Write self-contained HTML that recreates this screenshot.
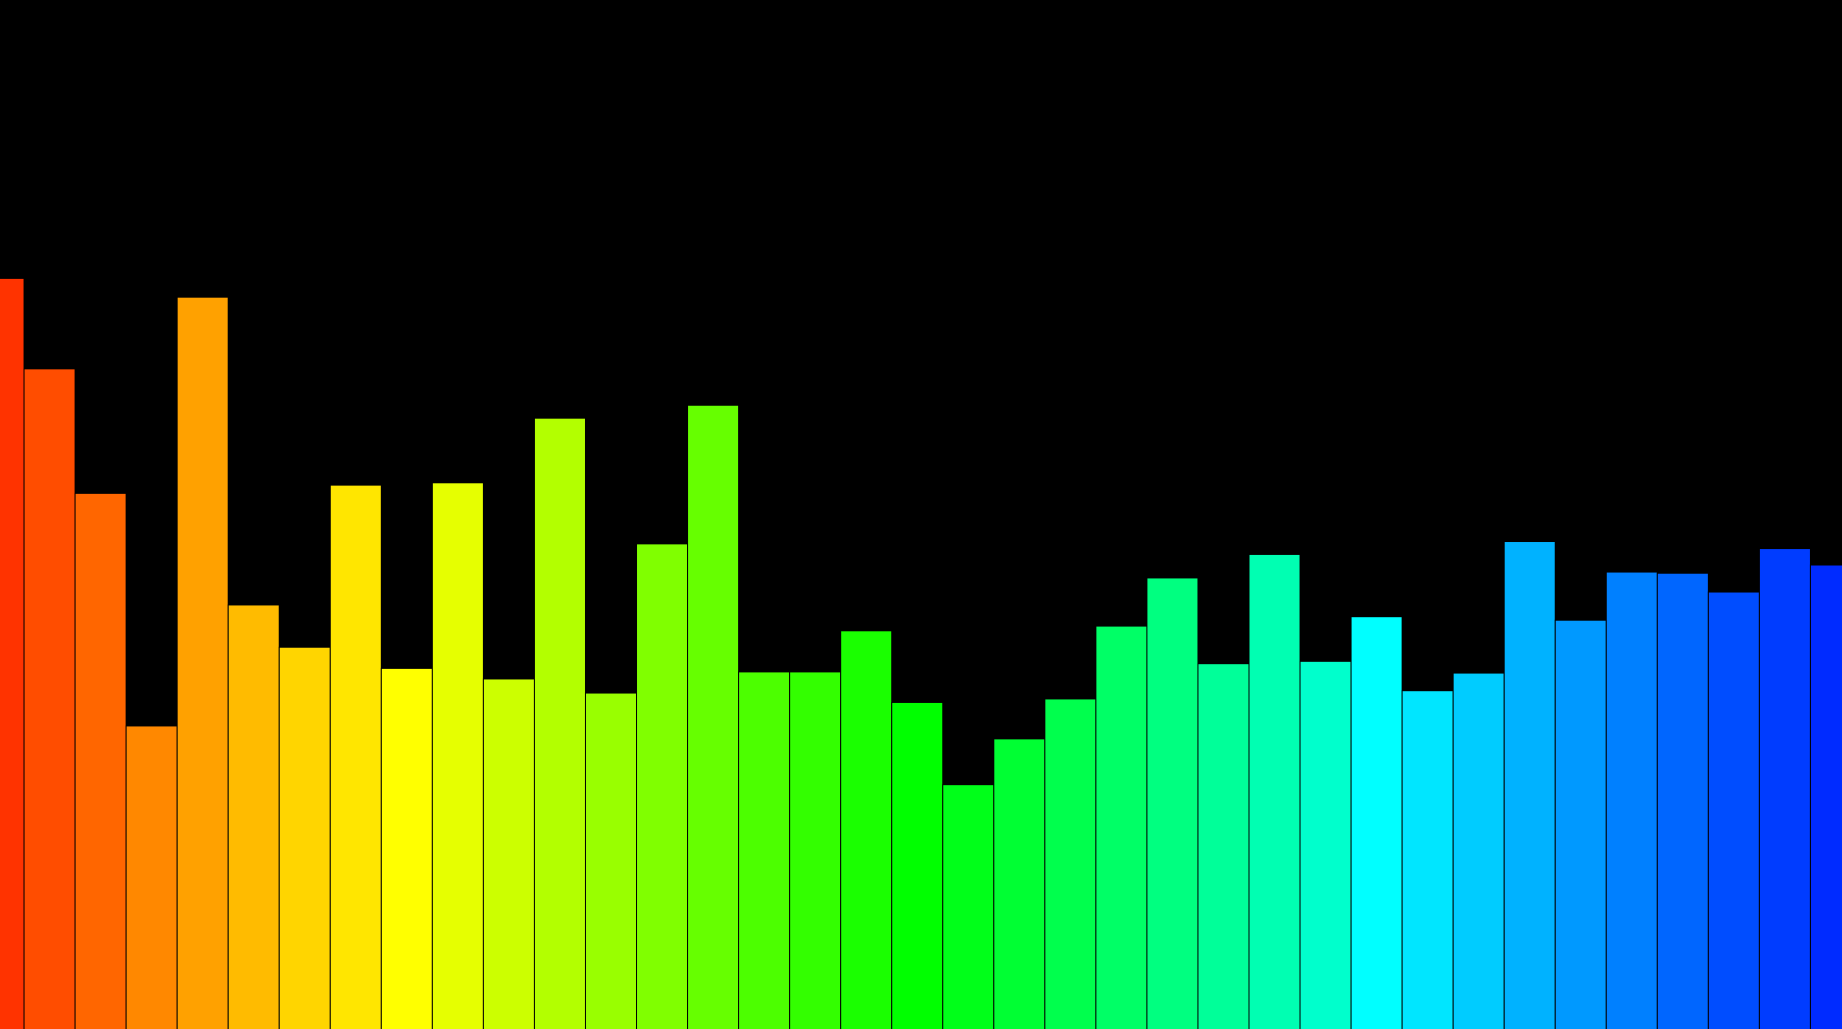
<!DOCTYPE html>
<html>
<head>
<meta charset="utf-8">
<style>
  html, body { margin: 0; padding: 0; background: #000; }
  svg { display: block; }
</style>
</head>
<body>
<svg id="chart" width="1842" height="1029" viewBox="0 0 1842 1029" xmlns="http://www.w3.org/2000/svg">
  <rect x="0" y="0" width="1842" height="1029" fill="#000"/>
  <g id="bars"></g>
</svg>
<script>
const categories = Array.from({length: 37}, (_, i) => 'bar-' + (i + 1));
const values = [639, 562, 456, 258, 623, 361, 325, 463, 307, 465, 298, 520, 286, 413, 531, 304, 304, 339, 278, 208, 247, 281, 343, 384, 311, 404, 313, 351, 288, 303, 415, 348, 389, 388, 372, 409, 395];
const hues = [12, 18, 24, 32, 38, 44, 50, 54, 60, 66, 72, 78, 84, 90, 96, 102, 108, 114, 120, 126, 132, 138, 144, 150, 156, 162, 168, 180, 186, 192, 198, 204, 210, 216, 222, 226, 230];

const W = 1842, H = 1029;
const step = 51.04;
const x0 = -27;
const yScale = 1029 / 876;
function xPos(i) { return x0 + i * step; }
function yPos(v) { return H - v * yScale; }

const g = document.getElementById('bars');
const NS = 'http://www.w3.org/2000/svg';
values.forEach((v, i) => {
  const r = document.createElementNS(NS, 'rect');
  r.setAttribute('x', xPos(i));
  r.setAttribute('y', yPos(v));
  r.setAttribute('width', step);
  r.setAttribute('height', H - yPos(v) + 2);
  r.setAttribute('fill', 'hsl(' + hues[i] + ',100%,50%)');
  r.setAttribute('stroke', '#000');
  r.setAttribute('stroke-width', '1');
  
  
  g.appendChild(r);
});
</script>
</body>
</html>
